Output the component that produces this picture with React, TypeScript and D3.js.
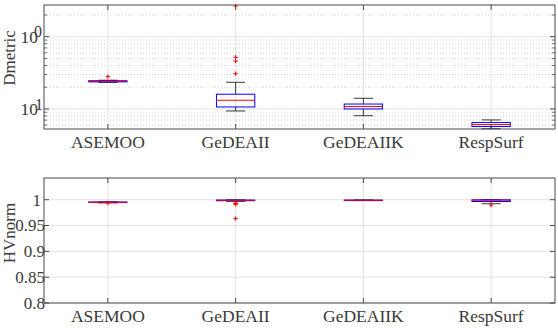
import React from "react";
import * as d3 from "d3";

// Algorithms compared on both panels
const categories = ["ASEMOO", "GeDEAII", "GeDEAIIK", "RespSurf"];

// Dmetric box statistics (log-scale panel)
const dmetricLow = [0.233, 0.0938, 0.0807, 0.0533];
const dmetricQ1 = [0.237, 0.1066, 0.1, 0.0571];
const dmetricMedian = [0.241, 0.132, 0.108, 0.0608];
const dmetricQ3 = [0.246, 0.16, 0.117, 0.0648];
const dmetricHigh = [0.25, 0.234, 0.1406, 0.0705];
const dmetricOutliers = [[0.28], [0.308, 0.461, 0.519, 2.66], [], []];

// HVnorm box statistics
const hvLow = [0.9938, 0.9968, 0.9985, 0.9922];
const hvQ1 = [0.9945, 0.998, 0.9988, 0.9965];
const hvMedian = [0.995, 0.9988, 0.999, 0.999];
const hvQ3 = [0.9955, 0.9993, 0.9992, 0.9998];
const hvHigh = [0.996, 0.9998, 0.9995, 1.0];
const hvOutliers = [[0.9935], [0.9935, 0.9925, 0.991, 0.9635], [], [0.9895]];

const hvTicks = [0.8, 0.85, 0.9, 0.95, 1];
const hvTickLabels = ["0.8", "0.85", "0.9", "0.95", "1"];

const W = 558;
const H = 329;
const LEFT = 44;
const RIGHT = 555;
const FONT = "Liberation Serif";
const FRAME = "#4a4a4a";
const GRID = "#dcdcdc";
const INK = "#3a3a3a";
const BOX_W = 0.3;
const CAP_W = 0.15;

const textStyle: React.CSSProperties = { fontFamily: FONT, fontSize: 17.5 };
const tickStyle: React.CSSProperties = { fontFamily: FONT, fontSize: 17 };

type Stats = {
  low: number[];
  q1: number[];
  med: number[];
  q3: number[];
  high: number[];
  out: number[][];
};

function Boxes({ x, y, s }: { x: d3.ScaleLinear<number, number>; y: (v: number) => number; s: Stats }) {
  return (
    <g>
      {categories.map((c, i) => {
        const cx = x(i + 1);
        const bx0 = x(i + 1 - BOX_W / 2);
        const bx1 = x(i + 1 + BOX_W / 2);
        const cx0 = x(i + 1 - CAP_W / 2);
        const cx1 = x(i + 1 + CAP_W / 2);
        return (
          <g key={c}>
            <line x1={cx} x2={cx} y1={y(s.q3[i])} y2={y(s.high[i])} stroke="#222" strokeWidth={0.9} />
            <line x1={cx} x2={cx} y1={y(s.q1[i])} y2={y(s.low[i])} stroke="#222" strokeWidth={0.9} />
            <line x1={cx0} x2={cx1} y1={y(s.high[i])} y2={y(s.high[i])} stroke="#222" strokeWidth={0.9} />
            <line x1={cx0} x2={cx1} y1={y(s.low[i])} y2={y(s.low[i])} stroke="#222" strokeWidth={0.9} />
            <rect
              x={bx0}
              y={y(s.q3[i])}
              width={bx1 - bx0}
              height={Math.max(0.5, y(s.q1[i]) - y(s.q3[i]))}
              fill="none"
              stroke="#0000ff"
              strokeWidth={1}
            />
            <line x1={bx0} x2={bx1} y1={y(s.med[i])} y2={y(s.med[i])} stroke="#ff0000" strokeWidth={1} />
            {s.out[i].map((v, k) => (
              <path
                key={k}
                d={`M${cx - 2.2},${y(v)}h4.4M${cx},${y(v) - 2.2}v4.4`}
                stroke="#ff0000"
                strokeWidth={1}
              />
            ))}
          </g>
        );
      })}
    </g>
  );
}

function XAxis({ x, top, bottom }: { x: d3.ScaleLinear<number, number>; top: number; bottom: number }) {
  return (
    <g>
      {categories.map((c, i) => (
        <g key={c}>
          <line x1={x(i + 1)} x2={x(i + 1)} y1={top} y2={bottom} stroke={GRID} strokeWidth={0.8} />
          <line x1={x(i + 1)} x2={x(i + 1)} y1={bottom} y2={bottom - 5} stroke={FRAME} />
          <line x1={x(i + 1)} x2={x(i + 1)} y1={top} y2={top + 5} stroke={FRAME} />
          <text x={x(i + 1)} y={bottom + 19} textAnchor="middle" style={textStyle} fill={INK}>
            {c}
          </text>
        </g>
      ))}
    </g>
  );
}

export default function App() {
  const x = d3.scaleLinear().domain([0.5, 4.5]).range([LEFT, RIGHT]);

  // Top panel: Dmetric on a log scale
  const t0 = 5;
  const t1 = 129;
  const yTop = d3.scaleLog().domain([0.0528, 2.75]).range([t1, t0]);
  const majors = [0.1, 1];
  const minors: number[] = [];
  for (const dec of [0.01, 0.1, 1]) {
    for (let m = 2; m <= 9; m++) {
      const v = m * dec;
      if (v > 0.0528 && v < 2.75) minors.push(v);
    }
  }

  // Bottom panel: HVnorm
  const b0 = 178;
  const b1 = 303;
  const yBot = d3.scaleLinear().domain([0.8, 1.042]).range([b1, b0]);

  const dStats: Stats = {
    low: dmetricLow,
    q1: dmetricQ1,
    med: dmetricMedian,
    q3: dmetricQ3,
    high: dmetricHigh,
    out: dmetricOutliers,
  };
  const hStats: Stats = { low: hvLow, q1: hvQ1, med: hvMedian, q3: hvQ3, high: hvHigh, out: hvOutliers };

  return (
    <svg
      width={W}
      height={H}
      viewBox={`0 0 ${W} ${H}`}
      style={{ position: "absolute", left: 0, top: 0, background: "#fff" }}
    >
      <rect x={0} y={0} width={W} height={H} fill="#fff" />

      {/* Dmetric panel */}
      <g>
        {minors.map((v) => (
          <g key={v}>
            <line
              x1={LEFT}
              x2={RIGHT}
              y1={yTop(v)}
              y2={yTop(v)}
              stroke="#c8c8c8"
              strokeWidth={0.8}
              strokeDasharray="1 2"
            />
            <line x1={LEFT} x2={LEFT + 3} y1={yTop(v)} y2={yTop(v)} stroke={FRAME} strokeWidth={0.8} />
            <line x1={RIGHT} x2={RIGHT - 3} y1={yTop(v)} y2={yTop(v)} stroke={FRAME} strokeWidth={0.8} />
          </g>
        ))}
        {majors.map((v) => (
          <g key={v}>
            <line x1={LEFT} x2={RIGHT} y1={yTop(v)} y2={yTop(v)} stroke={GRID} strokeWidth={0.8} />
            <line x1={LEFT} x2={LEFT + 5} y1={yTop(v)} y2={yTop(v)} stroke={FRAME} />
            <line x1={RIGHT} x2={RIGHT - 5} y1={yTop(v)} y2={yTop(v)} stroke={FRAME} />
          </g>
        ))}
        <XAxis x={x} top={t0} bottom={t1} />
        <Boxes x={x} y={(v) => yTop(v)} s={dStats} />
        <rect x={LEFT} y={t0} width={RIGHT - LEFT} height={t1 - t0} fill="none" stroke={FRAME} strokeWidth={1} />
        {/* decade labels */}
        <text x={38} y={yTop(1) + 6} textAnchor="end" style={textStyle} fill={INK}>
          10
        </text>
        <text x={34} y={yTop(1)} style={{ fontFamily: FONT, fontSize: 16 }} fill={INK}>
          0
        </text>
        <text x={38} y={yTop(0.1) + 6} textAnchor="end" style={textStyle} fill={INK}>
          10
        </text>
        <text x={35} y={yTop(0.1) + 1} style={{ fontFamily: FONT, fontSize: 16 }} fill={INK}>
          1
        </text>
        <text
          transform={`translate(14.5, ${(t0 + t1) / 2 - 9}) rotate(-90)`}
          textAnchor="middle"
          style={{ fontFamily: FONT, fontSize: 17 }}
          fill={INK}
        >
          Dmetric
        </text>
      </g>

      {/* HVnorm panel */}
      <g>
        {hvTicks.map((v, i) => (
          <g key={v}>
            <line x1={LEFT} x2={RIGHT} y1={yBot(v)} y2={yBot(v)} stroke={GRID} strokeWidth={0.8} />
            <line x1={LEFT} x2={LEFT + 5} y1={yBot(v)} y2={yBot(v)} stroke={FRAME} />
            <line x1={RIGHT} x2={RIGHT - 5} y1={yBot(v)} y2={yBot(v)} stroke={FRAME} />
            <text
              x={hvTickLabels[i] === "1" ? 41 : 45}
              y={yBot(v)}
              dy="0.35em"
              textAnchor="end"
              style={tickStyle}
              fill={INK}
            >
              {hvTickLabels[i]}
            </text>
          </g>
        ))}
        <XAxis x={x} top={b0} bottom={b1} />
        <Boxes x={x} y={(v) => yBot(v)} s={hStats} />
        <rect x={LEFT} y={b0} width={RIGHT - LEFT} height={b1 - b0} fill="none" stroke={FRAME} strokeWidth={1} />
        <text
          transform={`translate(14.5, 233) rotate(-90)`}
          textAnchor="middle"
          style={{ fontFamily: FONT, fontSize: 17 }}
          fill={INK}
        >
          HVnorm
        </text>
      </g>
    </svg>
  );
}
